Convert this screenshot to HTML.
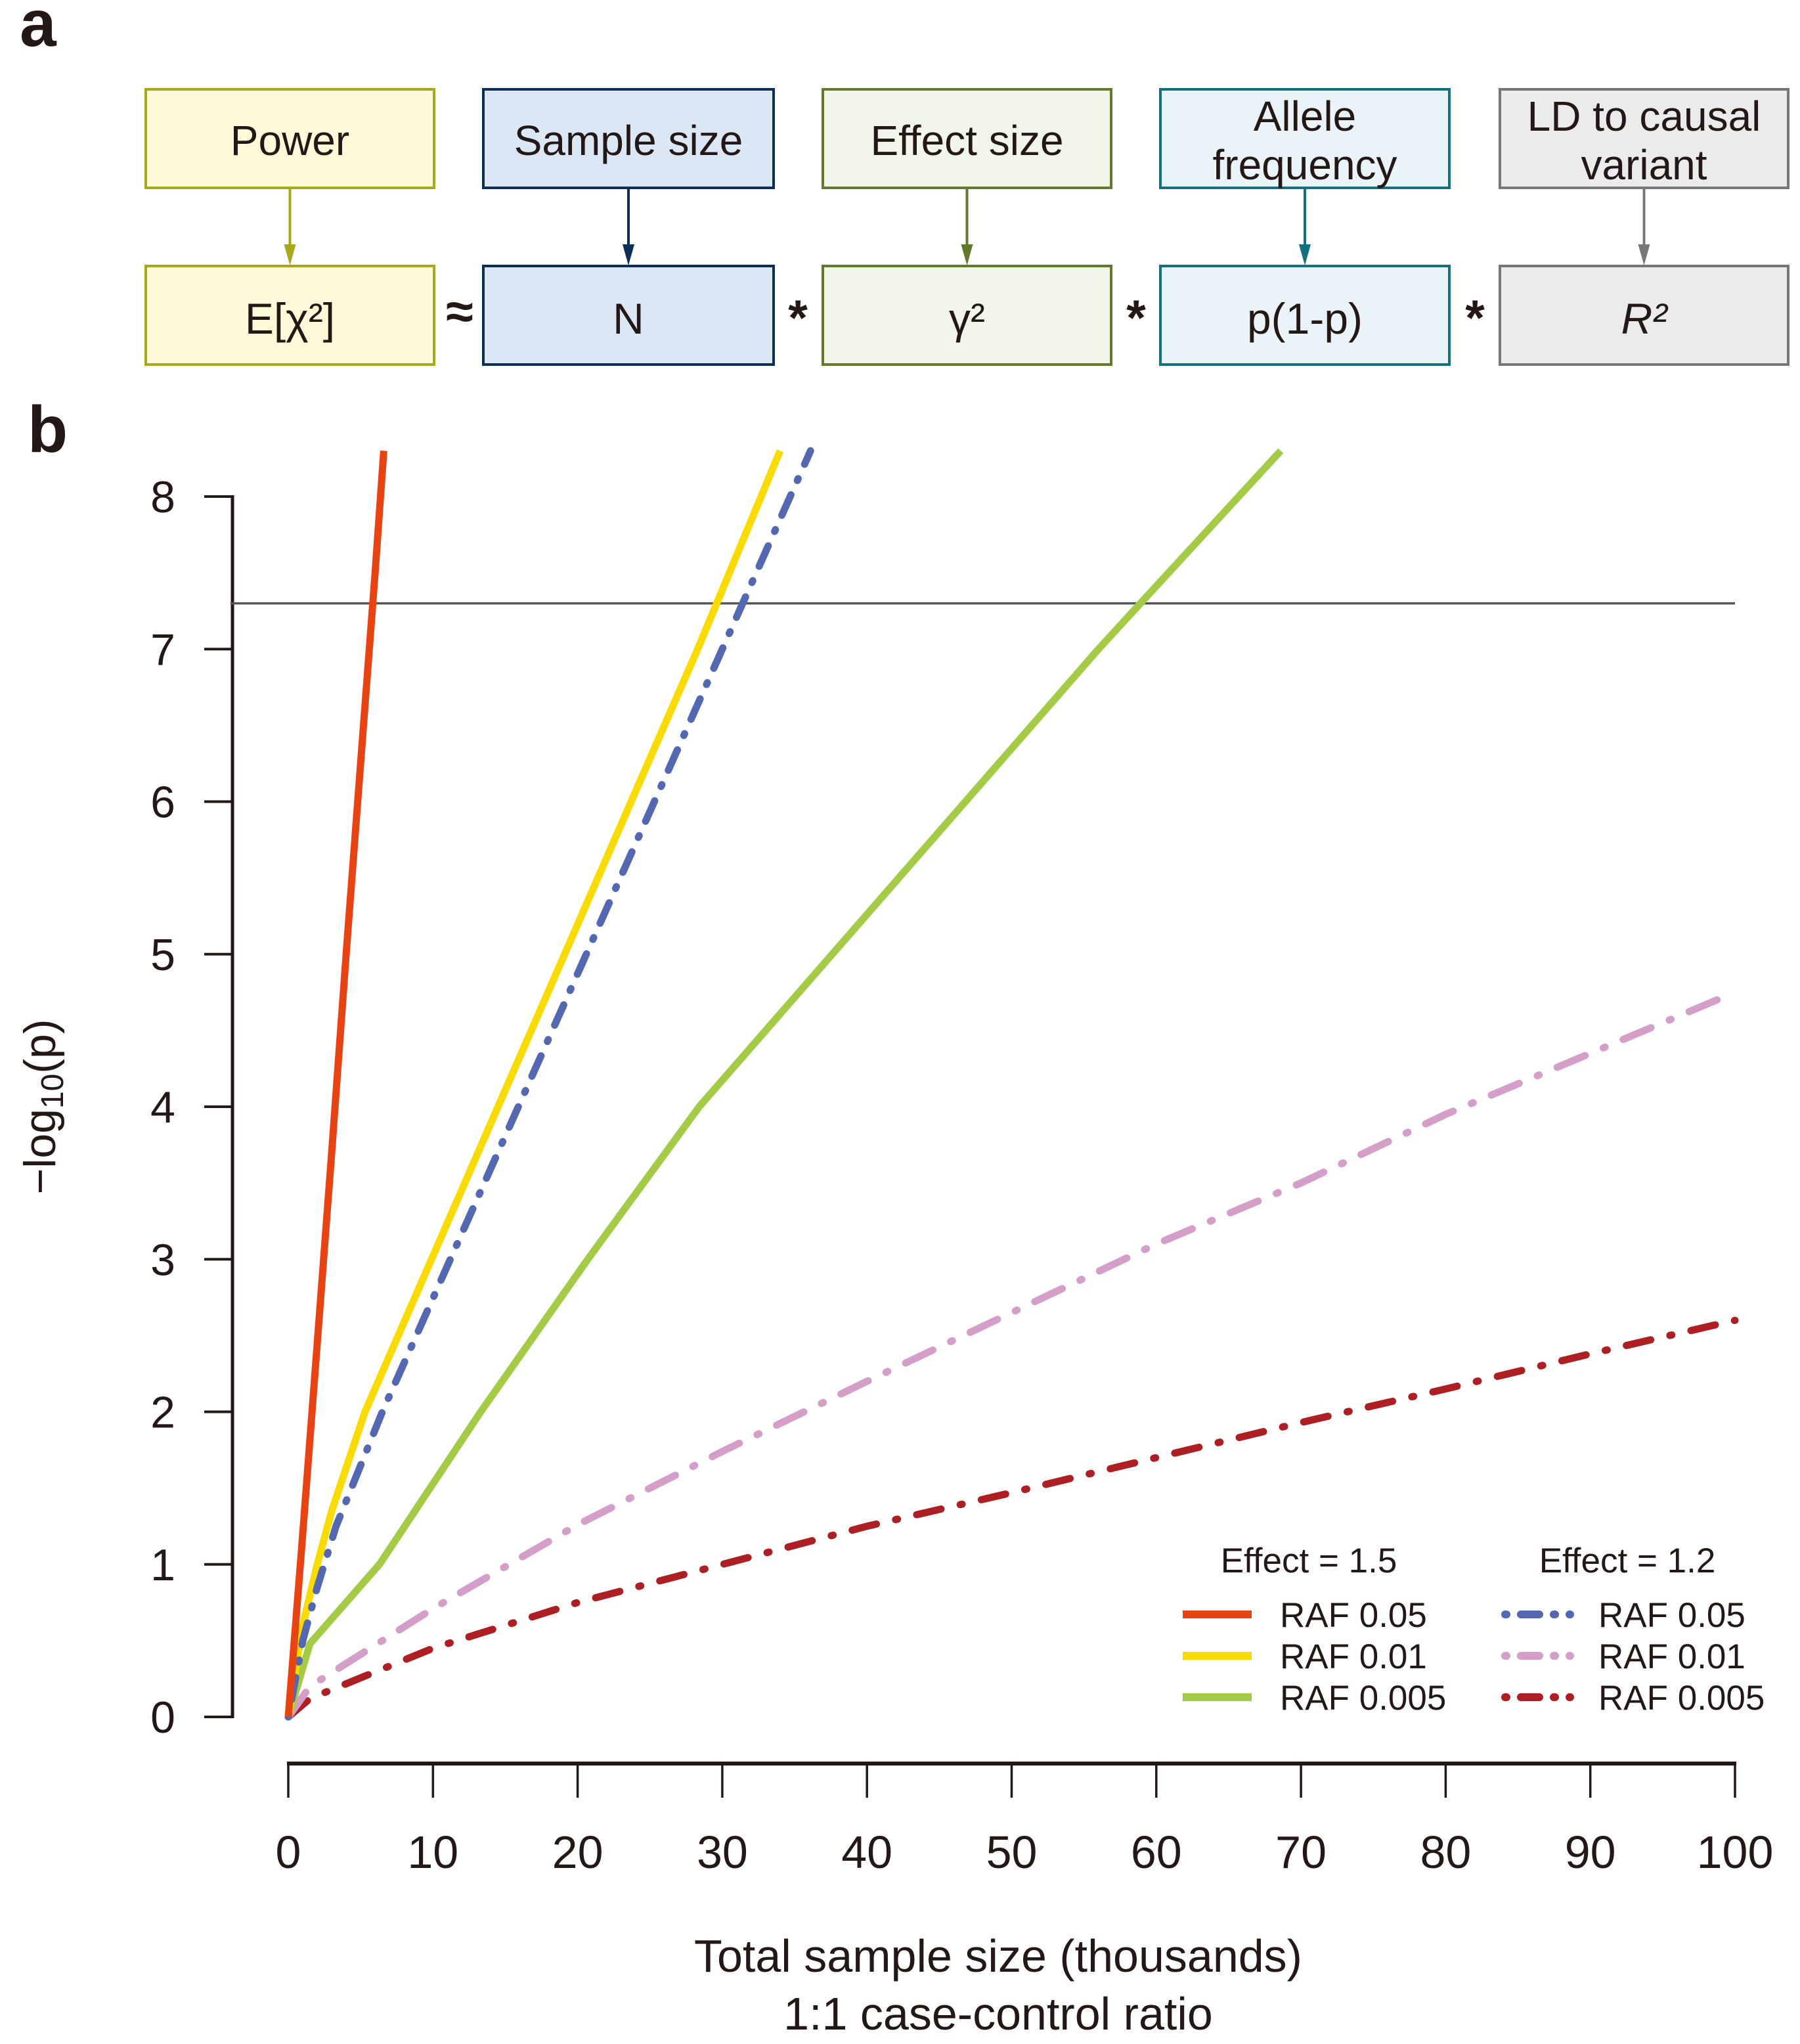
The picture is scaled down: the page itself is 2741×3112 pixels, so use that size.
<!DOCTYPE html>
<html><head><meta charset="utf-8"><style>
html,body{margin:0;padding:0;background:#fff;}
svg{display:block;font-family:"Liberation Sans",Arial,sans-serif;}
</style></head><body>
<svg id="fig" width="2741" height="3112" viewBox="0 0 2741 3112" xmlns="http://www.w3.org/2000/svg">
<g id="panelA"></g>
<g id="panelB"></g>
</svg>
<script>
// ---- chart data ----
const xTicks = [0,10,20,30,40,50,60,70,80,90,100];
const yTicks = [0,1,2,3,4,5,6,7,8];
const threshold = 7.3;
const redX = [0,1,2,3,4,5,6,6.6];
const redY = [0,1.2,2.45,3.7,5.0,6.25,7.5,8.3];
const yellowX = [0,1,2,3,5.3,9.9,14.5,19.1,23.7,28.3,34];
const yellowY = [0,0.6,1.0,1.35,2,3,4,5,6,7,8.3];
const blueX = [0,1,2,3.3,6.5,11.2,15.9,20.6,25.3,30,36.1];
const blueY = [0,0.5,0.85,1.25,2,3,4,5,6,7,8.3];
const greenX = [0,1.5,6.3,13.3,20.7,28.4,37.6,46.8,56.0,58.9,68.6];
const greenY = [0,0.48,1,2,3,4,5,6,7,7.3,8.3];
const pinkX = [0,1.5,10,20,30,40,50,60,70,80,90,100];
const pinkY = [0,0.2,0.71,1.26,1.74,2.2,2.65,3.1,3.5,3.95,4.35,4.75];
const darkX = [0,1.5,10,20,30,40,50,60,70,80,90,100];
const darkY = [0,0.12,0.45,0.75,1.0,1.25,1.47,1.7,1.93,2.15,2.38,2.6];

const NS = "http://www.w3.org/2000/svg";
function mk(tag, attrs, parent, text){
  const e = document.createElementNS(NS, tag);
  for (const k in attrs) e.setAttribute(k, attrs[k]);
  if (text !== undefined) e.textContent = text;
  parent.appendChild(e);
  return e;
}
const X0 = 439, X1 = 2642, Y0 = 2614, Y8 = 756;
const sx = v => X0 + (X1 - X0) * v / 100;
const sy = v => Y0 - (Y0 - Y8) * v / 8;

// ---------- Panel A ----------
const A = document.getElementById('panelA');
let t = mk('text',{x:30,y:70,'font-size':100,'font-weight':'bold',fill:'#231815'},A,'a');


const boxes = [
  {x:222,w:439,stroke:'#a7a81c',fill:'#fdfad9',top:['Power'],bot:'E[χ²]',nm:'power'},
  {x:736,w:442,stroke:'#0d2f55',fill:'#dce7f5',top:['Sample size'],bot:'N',nm:'sample-size'},
  {x:1253,w:439,stroke:'#637a2c',fill:'#f1f5ea',top:['Effect size'],bot:'γ²',nm:'effect-size'},
  {x:1767,w:440,stroke:'#146f7e',fill:'#e9f3f8',top:['Allele','frequency'],bot:'p(1-p)',nm:'allele-frequency'},
  {x:2284,w:439,stroke:'#777777',fill:'#eaebea',top:['LD to causal','variant'],bot:'R²',nm:'ld-causal-variant'}
];
boxes.forEach(b=>{
  const r1 = mk('rect',{x:b.x,y:136,width:b.w,height:150,fill:b.fill,stroke:b.stroke,'stroke-width':4},A);
  
  
  if (b.top.length===1){
    const tt = mk('text',{x:b.x+b.w/2,y:236,'font-size':64,'text-anchor':'middle',fill:'#231815'},A,b.top[0]);
    
    
  } else {
    b.top.forEach((s,i)=>{
      const tt = mk('text',{x:b.x+b.w/2,y:199+i*74,'font-size':64,'text-anchor':'middle',fill:'#231815'},A,s);
      
      
    });
  }
  const cx = b.x+b.w/2;
  const ln = mk('line',{x1:cx,y1:288,x2:cx,y2:375,stroke:b.stroke,'stroke-width':4},A);
  
  
  const hd = mk('polygon',{points:`${cx-9},372 ${cx+9},372 ${cx},404`,fill:b.stroke},A);
  
  
  const r2 = mk('rect',{x:b.x,y:405,width:b.w,height:150,fill:b.fill,stroke:b.stroke,'stroke-width':4},A);
  
  
  const ft = mk('text',{x:cx,y:508,'font-size':66,'text-anchor':'middle',fill:'#231815','font-style':(b.nm==='ld-causal-variant')?'italic':'normal'},A,b.bot);
  
  
});
[[700,'≈'],[1215,'*'],[1730,'*'],[2246,'*']].forEach(o=>{
  const op = mk('text',{x:o[0],y:o[1]==='≈'?500:510,'font-size':76,'font-weight':'bold','text-anchor':'middle',fill:'#231815'},A,o[1]);
  
  
});

// ---------- Panel B ----------
const B = document.getElementById('panelB');
t = mk('text',{x:42,y:688,'font-size':100,'font-weight':'bold',fill:'#231815'},B,'b');



let ax = mk('line',{x1:354,y1:sy(8)-2,x2:354,y2:sy(0)+2,stroke:'#231815','stroke-width':5},B);


yTicks.forEach(v=>{
  const tk = mk('line',{x1:311,y1:sy(v),x2:354,y2:sy(v),stroke:'#231815','stroke-width':4},B);
  
  
  const lb = mk('text',{x:267,y:sy(v)+24,'font-size':68,'text-anchor':'end',fill:'#231815'},B,String(v));
  
  
});
let yl = mk('text',{x:0,y:0,'font-size':68,'text-anchor':'middle',fill:'#231815',transform:'translate(84,1685) rotate(-90)'},B);


yl.appendChild(document.createTextNode('−log'));
mk('tspan',{'font-size':48,dy:12},yl,'10');
mk('tspan',{dy:-12},yl,'(p)');

ax = mk('line',{x1:sx(0)-2,y1:2685,x2:sx(100)+2,y2:2685,stroke:'#231815','stroke-width':6},B);


xTicks.forEach(v=>{
  const tk = mk('line',{x1:sx(v),y1:2685,x2:sx(v),y2:2737,stroke:'#231815','stroke-width':3.5},B);
  
  
  const lb = mk('text',{x:sx(v),y:2844,'font-size':70,'text-anchor':'middle',fill:'#231815'},B,String(v));
  
  
});
let xl = mk('text',{x:1520,y:3002,'font-size':70,'text-anchor':'middle',fill:'#231815'},B,'Total sample size (thousands)');


xl = mk('text',{x:1520,y:3090,'font-size':70,'text-anchor':'middle',fill:'#231815'},B,'1:1 case-control ratio');



const th = mk('line',{x1:sx(-4),y1:sy(threshold),x2:sx(100),y2:sy(threshold),stroke:'#555','stroke-width':3.5},B);



const series = [
  {xs:darkX,ys:darkY,c:'#ae1f24',dash:'38 30 3 30',nm:'line-effect-1.2-raf-0.005'},
  {xs:pinkX,ys:pinkY,c:'#d49ec9',dash:'46 30 3 30',nm:'line-effect-1.2-raf-0.01'},
  {xs:greenX,ys:greenY,c:'#a4cb45',dash:null,nm:'line-effect-1.5-raf-0.005'},
  {xs:yellowX,ys:yellowY,c:'#fadb00',dash:null,nm:'line-effect-1.5-raf-0.01'},
  {xs:blueX,ys:blueY,c:'#5468b2',dash:'3 24 34 24',nm:'line-effect-1.2-raf-0.05'},
  {xs:redX,ys:redY,c:'#e84313',dash:null,nm:'line-effect-1.5-raf-0.05'}
];
series.forEach(s=>{
  const d = s.xs.map((x,i)=>(i?'L':'M')+sx(x).toFixed(1)+','+sy(s.ys[i]).toFixed(1)).join(' ');
  const a = {d:d,fill:'none',stroke:s.c,'stroke-width':11,'stroke-linecap':s.dash?'round':'butt','stroke-linejoin':'round'};
  if (s.dash) a['stroke-dasharray'] = s.dash;
  const p = mk('path',a,B);
  
  
});

const lg = mk('g',{},B);


let h = mk('text',{x:1993,y:2394,'font-size':53,'text-anchor':'middle',fill:'#231815'},lg,'Effect = 1.5');


h = mk('text',{x:2478,y:2394,'font-size':53,'text-anchor':'middle',fill:'#231815'},lg,'Effect = 1.2');


const leg = [
  [1801,2458,'#e84313',null,'RAF 0.05'],[1801,2521,'#fadb00',null,'RAF 0.01'],[1801,2584,'#a4cb45',null,'RAF 0.005'],
  [2286,2458,'#5468b2','2 22 28 22','RAF 0.05'],[2286,2521,'#d49ec9','2 22 28 22','RAF 0.01'],[2286,2584,'#ae1f24','2 22 28 22','RAF 0.005']
];
leg.forEach(l=>{
  const a = {x1:l[3]?l[0]+6:l[0],y1:l[1],x2:l[0]+105,y2:l[1],stroke:l[2],'stroke-width':12,'stroke-linecap':l[3]?'round':'butt'};
  if (l[3]) a['stroke-dasharray']=l[3];
  const ln = mk('line',a,lg);
  
  
  const tx = mk('text',{x:l[0]+148,y:l[1]+19,'font-size':53,fill:'#231815'},lg,l[4]);
  
  
});
</script>
</body></html>
